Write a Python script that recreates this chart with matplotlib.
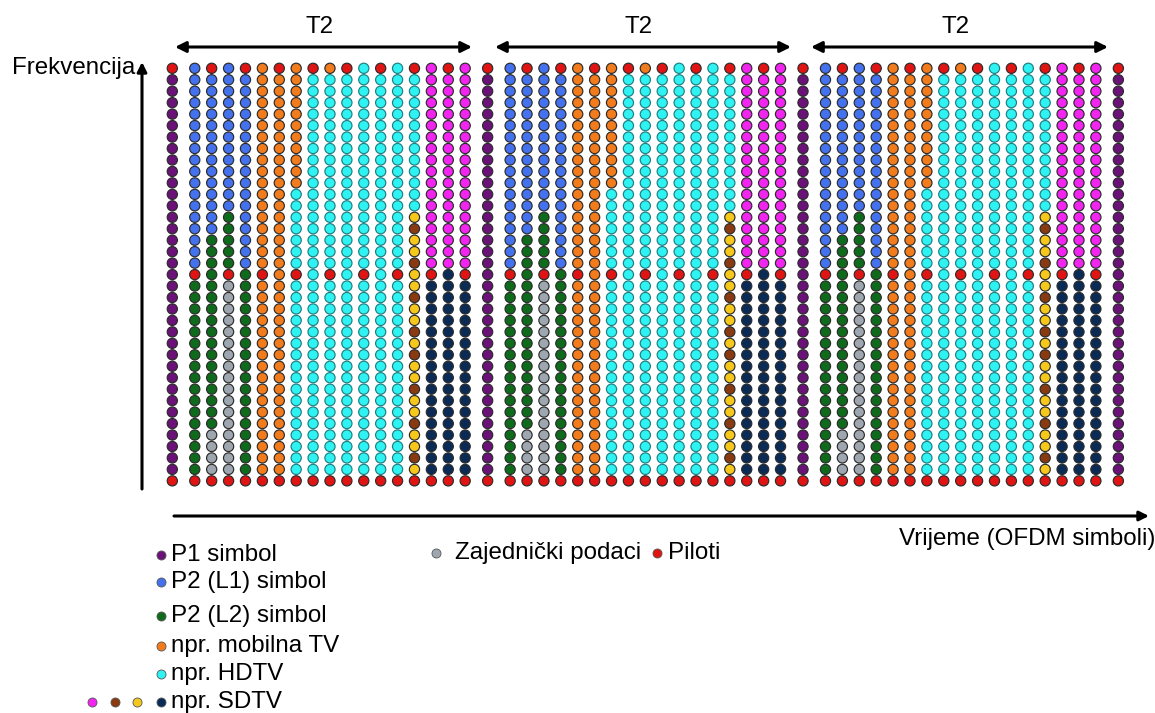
import matplotlib
matplotlib.use("Agg")
import matplotlib.pyplot as plt

plt.rcParams["font.family"] = ["Liberation Sans", "DejaVu Sans"]

# ---------------- data ----------------
FRAME_LABEL = "T2"
N_FRAMES = 3
N_CARRIERS = 37
# contents of the OFDM symbols (columns) of one T2 frame, run-length coded, top carrier first
FRAME_COLUMNS = [
    "R1 P35 R1",  # P1 symbol
    "B18 R1 G17 R1",
    "R1 B14 G17 Z4 R1",
    "B13 G5 R1 Z17 R1",
    "R1 B17 G18 R1",
    "O18 R1 O17 R1",
    "R1 O35 R1",
    "O11 C7 R1 C17 R1",
    "R1 C35 R1",
    "O1 C17 R1 C17 R1",
    "R1 C35 R1",
    "C18 R1 C17 R1",
    "R1 C35 R1",
    "C18 R1 C17 R1",
    "R1 C12 Y1 K1 Y2 K1 Y2 K1 Y2 K1 Y1 K1 Y2 K1 Y2 K1 Y2 K1 Y1 R1",
    "M18 R1 N17 R1",
    "R1 M17 N18 R1",
    "M18 R1 N17 R1",
]
NEXT_P1_COLUMN = "R1 P35 R1"

COLORS = {
    "P": "#6a1277",  # P1
    "B": "#4472ee",  # P2 L1
    "G": "#0f6b1c",  # P2 L2
    "O": "#f27b1c",  # mobile TV
    "C": "#2ff2f2",  # HDTV
    "N": "#0b2b57",  # SDTV
    "M": "#f224f0",
    "K": "#8a3a10",
    "Y": "#f6c81c",
    "Z": "#9ea7b0",  # common data
    "R": "#e11414",  # pilots
}
EDGES = {"C": "#1d7f82"}

LEGEND_LEFT_LABELS = ["P1 simbol", "P2 (L1) simbol", "P2 (L2) simbol",
                      "npr. mobilna TV", "npr. HDTV", "npr. SDTV"]
LEGEND_LEFT_CODES = ["P", "B", "G", "O", "C", "N"]
SDTV_EXTRA_CODES = ["M", "K", "Y"]
LEGEND_MID_LABELS = ["Zajednički podaci", "Piloti"]
LEGEND_MID_CODES = ["Z", "R"]

Y_LABEL = "Frekvencija"
X_LABEL = "Vrijeme (OFDM simboli)"

# ---------------- layout ----------------
W, H = 1155, 713
GAP = 1.33                     # gap around P1 symbol (in data-symbol units)
FRAME_W = 2 * GAP + (len(FRAME_COLUMNS) - 2)
X0_PX, DX_PX = 172.3, 16.9     # pixel position of first P1, symbol spacing
Y0_PX, DY_PX = 68.3, 11.46     # pixel position of first carrier, carrier spacing


def decode(spec):
    out = []
    for tok in spec.split():
        out += [tok[0]] * int(tok[1:])
    return out


def col_pos(k):
    return 0.0 if k == 0 else GAP + (k - 1)


fig = plt.figure(figsize=(W / 100, H / 100), dpi=100)
ax = fig.add_axes([0, 0, 1, 1])
ax.set_xlim(-X0_PX / DX_PX, (W - X0_PX) / DX_PX)
ax.set_ylim((H - Y0_PX) / DY_PX, -Y0_PX / DY_PX)
ax.axis("off")

xs, ys, cs, es = [], [], [], []
columns = []
for f in range(N_FRAMES):
    for k, spec in enumerate(FRAME_COLUMNS):
        columns.append((f * FRAME_W + col_pos(k), spec))
columns.append((N_FRAMES * FRAME_W, NEXT_P1_COLUMN))
for x, spec in columns:
    for r, code in enumerate(decode(spec)):
        xs.append(x)
        ys.append(r)
        cs.append(COLORS[code])
        es.append(EDGES.get(code, "#2b2b2b"))
ax.scatter(xs, ys, s=54, c=cs, edgecolors=es, linewidths=0.85, zorder=3)


def fx(px):
    return px / W


def fy(py):
    return 1 - py / H


def arrow(x1, y1, x2, y2, style, ms=16):
    ax.annotate("", xy=(fx(x2), fy(y2)), xytext=(fx(x1), fy(y1)),
                xycoords="figure fraction", textcoords="figure fraction",
                arrowprops=dict(arrowstyle=style, color="black", lw=2.2,
                                mutation_scale=ms, shrinkA=0, shrinkB=0))


FS = 17.4
# T2 arrows
T2_SPANS = [(175, 472), (495, 791), (811, 1108)]
for a, b in T2_SPANS:
    arrow(a, 47, b, 47, "<|-|>", 16)
    fig.text(fx((a + b) / 2 - 4), fy(27), FRAME_LABEL, fontsize=FS,
             ha="center", va="center")

# axes arrows
arrow(142, 489, 142, 62, "-|>", 14)
arrow(174, 516, 1149, 516, "-|>", 14)
fig.text(fx(12), fy(68), Y_LABEL, fontsize=FS, ha="left", va="center")
fig.text(fx(1155), fy(539), X_LABEL, fontsize=FS, ha="right", va="center")

# legend
LEFT_ROWS_PY = [555, 582, 616, 646, 674, 702]
for py, lab, code in zip(LEFT_ROWS_PY, LEGEND_LEFT_LABELS, LEGEND_LEFT_CODES):
    fig.lines.append(plt.Line2D([fx(161)], [fy(py)], marker="o", ms=6.5,
                                mfc=COLORS[code], mec="#555555", mew=0.6,
                                transform=fig.transFigure))
    fig.text(fx(171), fy(py), lab, fontsize=FS, ha="left", va="center")
for px, code in zip([92, 115, 137], SDTV_EXTRA_CODES):
    fig.lines.append(plt.Line2D([fx(px)], [fy(702)], marker="o", ms=6.5,
                                mfc=COLORS[code], mec="#555555", mew=0.6,
                                transform=fig.transFigure))
for (mpx, tpx), lab, code in zip([(436, 455), (657, 668)], LEGEND_MID_LABELS,
                                 LEGEND_MID_CODES):
    fig.lines.append(plt.Line2D([fx(mpx)], [fy(553)], marker="o", ms=6.5,
                                mfc=COLORS[code], mec="#555555", mew=0.6,
                                transform=fig.transFigure))
    fig.text(fx(tpx), fy(553), lab, fontsize=FS, ha="left", va="center")

fig.savefig("out.png", dpi=100, facecolor="white")
